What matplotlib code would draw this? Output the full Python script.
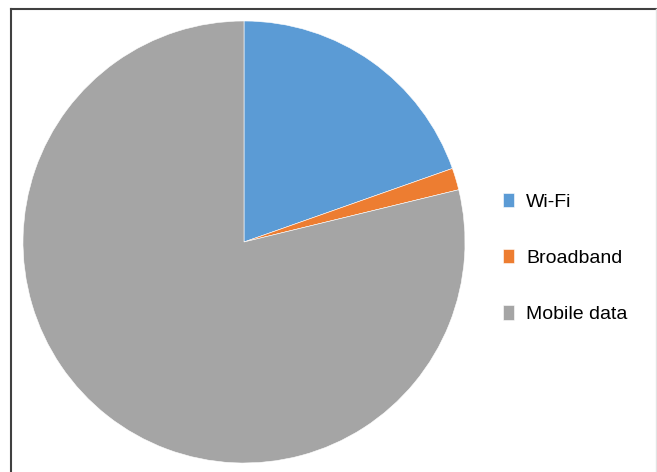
import matplotlib.pyplot as plt
from matplotlib.lines import Line2D

# share of connections
labels = ["Wi-Fi", "Broadband", "Mobile data"]
shares = [19.6, 1.6, 78.8]
colors = ["#5B9BD5", "#ED7D31", "#A5A5A5"]

W, H = 657, 472
fig = plt.figure(figsize=(W / 100, H / 100), dpi=100)
plt.rcParams['font.family'] = ['Liberation Sans', 'DejaVu Sans']

cx, cy, r = 244, 242, 221
ax = fig.add_axes([(cx - r) / W, (H - cy - r) / H, 2 * r / W, 2 * r / H])
wedges, _ = ax.pie(shares, colors=colors, startangle=90, counterclock=False,
                   radius=1, wedgeprops=dict(edgecolor="white", linewidth=0.4))
ax.set_xlim(-1, 1)
ax.set_ylim(-1, 1)
ax.set_aspect("equal")
ax.axis("off")

fig.legend(wedges, labels, loc="center left",
           bbox_to_anchor=(503 / W, 1 - 258 / H), frameon=False,
           fontsize=14, handlelength=0.55, handleheight=0.75,
           handletextpad=0.65, labelspacing=1.98, borderpad=0, borderaxespad=0)

# outer frame: top and left dark, right faint
fig.add_artist(Line2D([11 / W, 656 / W], [1 - 9 / H, 1 - 9 / H], color="#404040", lw=1.5))
fig.add_artist(Line2D([11 / W, 11 / W], [0, 1 - 9 / H], color="#404040", lw=1.5))
fig.add_artist(Line2D([656 / W, 656 / W], [0, 1 - 9 / H], color="#e3e3e3", lw=1))

fig.savefig("out.png", dpi=100)
